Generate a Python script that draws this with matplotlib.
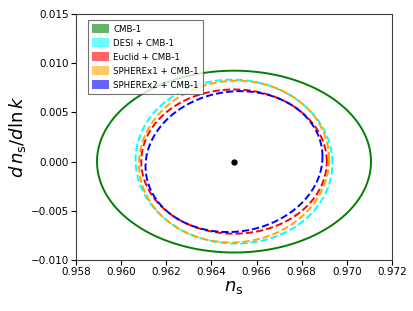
import numpy as np
import matplotlib
matplotlib.use("Agg")
import matplotlib.pyplot as plt
from matplotlib.patches import Patch

# === DATA ===
labels = ["CMB-1", "DESI + CMB-1", "Euclid + CMB-1", "SPHEREx1 + CMB-1", "SPHEREx2 + CMB-1"]
colors = ["green", "cyan", "red", "orange", "blue"]
styles = ["-", "--", "--", "--", "--"]
fiducial_ns = 0.965
fiducial_alpha = 0.0
# half extents of each contour in n_s and dn_s/dlnk, plus correlation
half_ns = [0.00607, 0.00436, 0.00411, 0.00421, 0.00392]
half_alpha = [0.00924, 0.00833, 0.00733, 0.00822, 0.00716]
corr = [0.0, -0.02, 0.0, 0.03, 0.07]

xticks = [0.958, 0.960, 0.962, 0.964, 0.966, 0.968, 0.970, 0.972]
yticks = [-0.010, -0.005, 0.000, 0.005, 0.010, 0.015]

fig = plt.figure(figsize=(4.14, 3.11), dpi=100)
ax = fig.add_axes([0.1836, 0.164, 0.7633, 0.791])

t = np.linspace(0, 2 * np.pi, 400)
for a, b, r, c, ls in zip(half_ns, half_alpha, corr, colors, styles):
    x = fiducial_ns + a * np.cos(t)
    y = fiducial_alpha + b * (r * np.cos(t) + np.sqrt(1 - r ** 2) * np.sin(t))
    ax.plot(x, y, color=c, ls=ls, lw=1.4)

ax.plot(fiducial_ns, fiducial_alpha, "o", color="black", ms=3.5)

ax.set_xlim(0.958, 0.972)
ax.set_ylim(-0.010, 0.015)
ax.set_xticks(xticks)
ax.set_yticks(yticks)
ax.set_xticklabels([f"{v:.3f}" for v in xticks])
ax.set_yticklabels([f"{v:.3f}".replace("-", "\u2212") for v in yticks])
ax.tick_params(labelsize=7.5, length=3.5, width=0.8, pad=1.5)
for s in ax.spines.values():
    s.set_color("0.25")

ax.set_xlabel(r"$n_{\rm s}$", fontsize=13, labelpad=1)
ax.set_ylabel(r"$d\,n_{\rm s}/d\ln k$", fontsize=13, labelpad=2)

handles = [Patch(facecolor=c, alpha=0.6, edgecolor="none") for c in colors]
leg = ax.legend(handles, labels, loc="upper left", bbox_to_anchor=(0.037, 0.976),
                borderaxespad=0, fontsize=6.2, fancybox=False, framealpha=0.8,
                edgecolor="0.3", handlelength=2.0, handleheight=1.2,
                handletextpad=0.45, labelspacing=0.55, borderpad=0.5)
leg.get_frame().set_linewidth(0.8)

fig.savefig("out.png", dpi=100)
